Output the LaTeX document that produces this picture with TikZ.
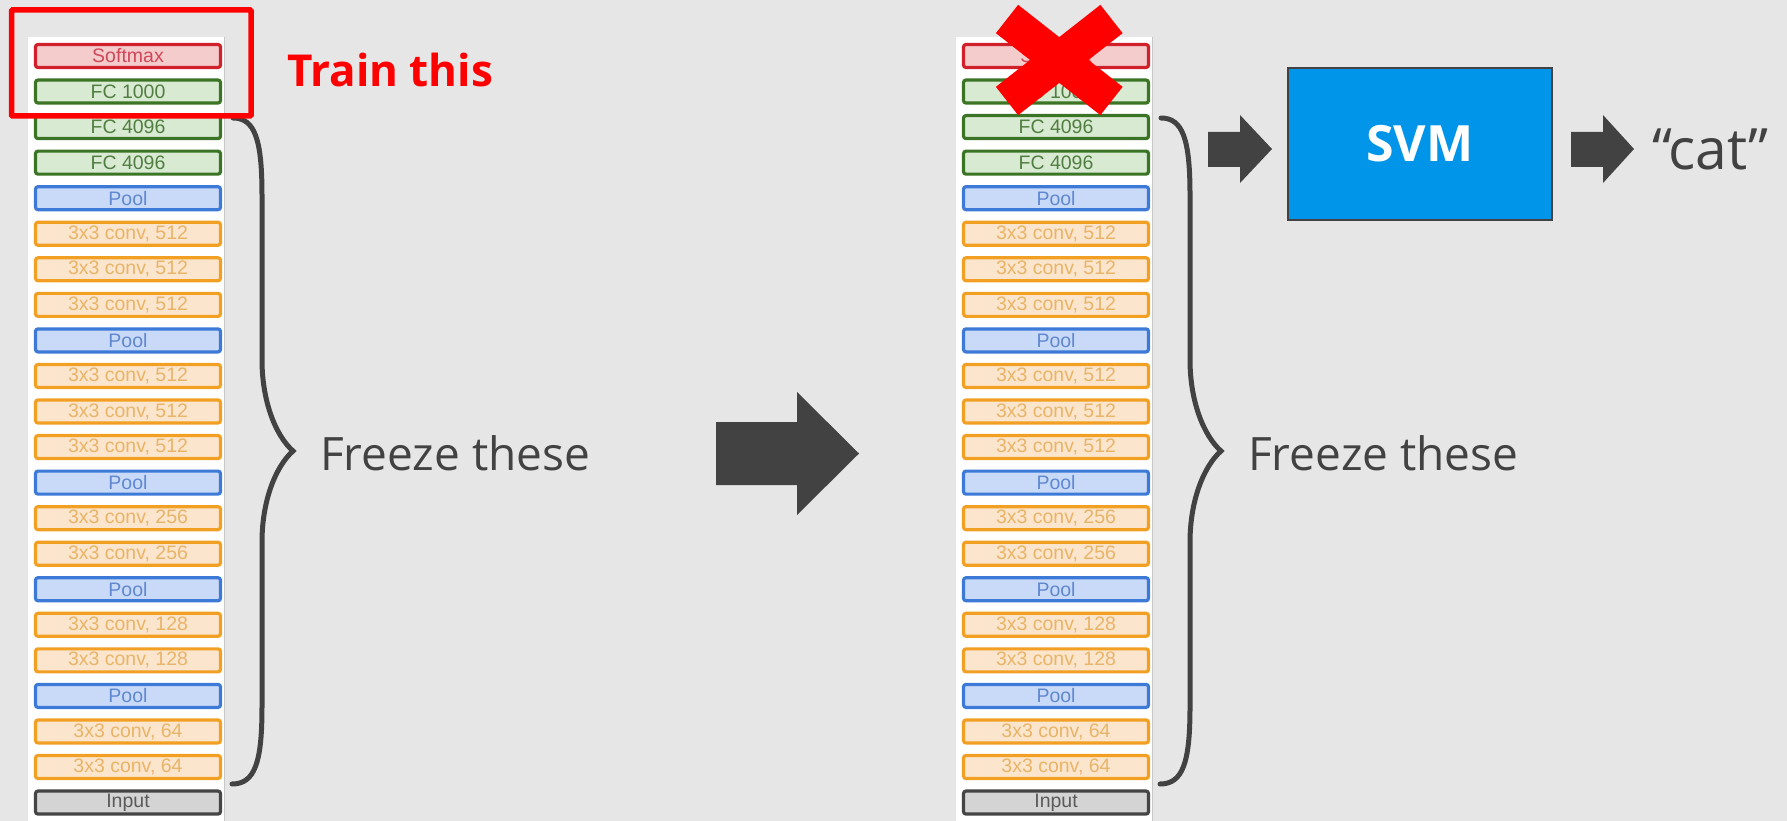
\documentclass[tikz,border=0pt]{standalone}
\usepackage{fontspec}
\setmainfont{Open Sans}
\newfontfamily\boxfont{Liberation Sans}

\definecolor{pagebg}{HTML}{E6E6E6}
\definecolor{ink}{HTML}{424242}
\definecolor{svmblue}{HTML}{0095E8}
\definecolor{smfill}{HTML}{F4CCCC}
\definecolor{smdraw}{HTML}{D0202A}
\definecolor{smtext}{HTML}{D04858}
\definecolor{fcfill}{HTML}{D9EAD3}
\definecolor{fcdraw}{HTML}{3A7424}
\definecolor{fctext}{HTML}{507E40}
\definecolor{poolfill}{HTML}{C9DAF8}
\definecolor{pooldraw}{HTML}{3D7AD8}
\definecolor{pooltext}{HTML}{6088D0}
\definecolor{convfill}{HTML}{FCE5CD}
\definecolor{convdraw}{HTML}{F2A024}
\definecolor{convtext}{HTML}{E8B468}
\definecolor{infill}{HTML}{D4D4D4}
\definecolor{indraw}{HTML}{454545}
\definecolor{intext}{HTML}{5A5A5A}

\newcommand\convlabel[1]{3x3 conv, #1}

\tikzset{
  layer/.style={rectangle, rounded corners=2.5pt, line width=3.2pt,
    minimum width=185pt, minimum height=23pt, inner sep=0pt,
    font=\boxfont\fontsize{19.5}{19.5}\selectfont},
  softmaxbox/.style={layer, draw=smdraw, fill=smfill, text=smtext},
  fcbox/.style={layer, draw=fcdraw, fill=fcfill, text=fctext},
  poolbox/.style={layer, draw=pooldraw, fill=poolfill, text=pooltext},
  convbox/.style={layer, draw=convdraw, fill=convfill, text=convtext},
  inputbox/.style={layer, draw=indraw, fill=infill, text=intext},
  braceline/.style={draw=ink, line width=5pt, line cap=round},
  blockarrow/.style={fill=ink},
  caption/.style={text=ink, font=\fontsize{46}{46}\selectfont, anchor=base west, inner sep=0pt},
}

\begin{document}
\begin{tikzpicture}[x=1pt, y=-1pt]
  % page
  \fill[pagebg] (0,0) rectangle (1787,821);
  \useasboundingbox (0,0) rectangle (1787,821);

  % two copies of the layer stack
  \foreach \side/\dx in {L/0, R/928} {
    \begin{scope}[xshift=\dx pt]
      \fill[white] (28,37) rectangle (224,821);
      \draw[line width=1pt, black!22] (224.5,37) -- (224.5,821);
      \foreach \i/\s/\t in {
          0/softmaxbox/Softmax, 1/fcbox/FC 1000, 2/fcbox/FC 4096, 3/fcbox/FC 4096,
          4/poolbox/Pool, 5/convbox/\convlabel{512}, 6/convbox/\convlabel{512},
          7/convbox/\convlabel{512}, 8/poolbox/Pool, 9/convbox/\convlabel{512},
          10/convbox/\convlabel{512}, 11/convbox/\convlabel{512}, 12/poolbox/Pool,
          13/convbox/\convlabel{256}, 14/convbox/\convlabel{256}, 15/poolbox/Pool,
          16/convbox/\convlabel{128}, 17/convbox/\convlabel{128}, 18/poolbox/Pool,
          19/convbox/\convlabel{64}, 20/convbox/\convlabel{64}, 21/inputbox/Input} {
        \node[\s] (\side\i) at (128, 56+35.55*\i) {\t};
      }
      % curly brace over the frozen layers
      \draw[braceline] (233,118) .. controls (255,118) and (262,140) .. (262,195)
        -- (262,360) .. controls (262,400) and (275,435) .. (293,451)
        .. controls (275,467) and (262,502) .. (262,542)
        -- (262,707) .. controls (262,762) and (255,784) .. (232,784);
      \node[caption] (\side freeze) at (320,470) {Freeze these};
    \end{scope}
  }

  % layers to be retrained
  \draw[red, line width=5.5pt, rounded corners=1pt] (11.5,10) rectangle (251,116);
  \node[text=red, font=\bfseries\fontsize{44}{44}\selectfont, anchor=base west, inner sep=0pt]
    (train) at (287,87) {Train this};

  % transition arrow
  \fill[blockarrow] (716,422) -- (797,422) -- (797,392) -- (859,453.5)
    -- (797,515) -- (797,485) -- (716,485) -- cycle;

  % removed head on the right-hand stack
  \draw[red, line width=36pt, line cap=butt] (1007,19) -- (1111.5,101);
  \draw[red, line width=36pt, line cap=butt] (1007,101) -- (1111.5,19);

  % SVM classifier and its output
  \fill[blockarrow] (1208,132) -- (1240,132) -- (1240,115) -- (1272,149)
    -- (1240,183) -- (1240,167) -- (1208,167) -- cycle;
  \node[draw=ink, line width=2pt, fill=svmblue, minimum width=264pt, minimum height=152pt,
    inner sep=0pt, text=white, font=\bfseries\fontsize{50}{50}\selectfont]
    (svm) at (1420,144) {SVM};
  \fill[blockarrow] (1571,132) -- (1603,132) -- (1603,115) -- (1634,149)
    -- (1603,183) -- (1603,167) -- (1571,167) -- cycle;
  \node[text=ink, font=\fontsize{57}{57}\selectfont, anchor=base west, inner sep=0pt]
    (cat) at (1652,170) {“cat”};
\end{tikzpicture}
\end{document}
